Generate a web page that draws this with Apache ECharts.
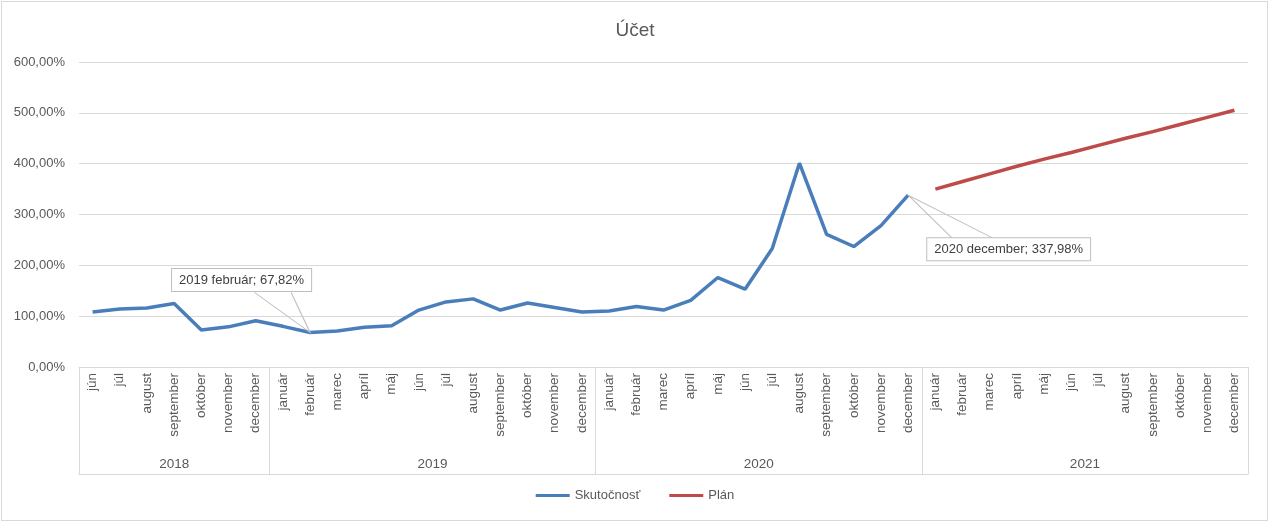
<!DOCTYPE html>
<html>
<head>
<meta charset="utf-8">
<title>Účet</title>
<script src="https://cdn.jsdelivr.net/npm/echarts@6/dist/echarts.min.js"></script>
<style>
    html, body { margin: 0; padding: 0; background: #fff; }
    #chartMain { position: absolute; left: 0; top: 0; width: 1270px; height: 522px; }
    #frame { position: absolute; left: 1px; top: 1px; width: 1265px; height: 518px; border: 1px solid #d9d9d9; pointer-events: none; }
</style>
</head>
<body>
<div id="chartMain"></div>
<div id="frame"></div>
<script>
// roky a mesiace na osi x
var years = ['2018', '2019', '2020', '2021'];
var monthsFirstYear = ['jún', 'júl', 'august', 'september', 'október', 'november', 'december'];
var monthsYear = ['január', 'február', 'marec', 'apríl', 'máj', 'jún', 'júl', 'august', 'september', 'október', 'november', 'december'];

// Skutočnosť: jún 2018 - december 2020 (v %)
var actualValues = [108, 114, 116, 125, 73, 79, 91,
    80, 67.82, 71, 78, 81, 112, 128, 134, 112, 126, 117, 108,
    110, 119, 112, 131, 176, 153, 233, 401, 261, 237, 278, 337.98];

// Plán: január - december 2021 (v %)
var planValues = [350, 365, 380, 395, 409, 422, 436, 450, 463, 477, 491, 505];

// tick labels osi y
var yTicks = [0, 100, 200, 300, 400, 500, 600];

// body s popiskom (index v kategóriách)
var calloutIndexes = [8, 30];

var chartOperation = {

    fmtPct: function (v) {
        return v.toFixed(2).replace('.', ',') + '%';
    },

    draw: function () {
        //kategórie a skupiny rokov
        var categories = [];
        var categoryYear = [];
        var groupCounts = [];
        for (var y = 0; y < years.length; y++) {
            var list = (y === 0) ? monthsFirstYear : monthsYear;
            groupCounts.push(list.length);
            for (var m = 0; m < list.length; m++) {
                categories.push(list[m]);
                categoryYear.push(years[y]);
            }
        }
        var total = categories.length;

        var boundaries = [0];
        var centers = [];
        var acc = 0;
        for (var g = 0; g < groupCounts.length; g++) {
            centers.push(acc + groupCounts[g] / 2);
            acc += groupCounts[g];
            boundaries.push(acc);
        }

        var actualData = [];
        var planData = [];
        for (var i = 0; i < total; i++) {
            actualData.push(i < actualValues.length ? actualValues[i] : null);
            var p = i - (total - planValues.length);
            planData.push(p >= 0 ? planValues[p] : null);
        }

        //popisky - klin a rámček
        var wedges = [
            { path: 'path://M0,0 L55.5,40 L36.6,0', size: [55.5, 40], offset: [-27.75, -20], box: [-68.5, -52.5] },
            { path: 'path://M45,44 L0,0 L87,44', size: [87, 44], offset: [43.5, 22], box: [100.5, 54] }
        ];
        var markData = [];
        for (var c = 0; c < calloutIndexes.length; c++) {
            var idx = calloutIndexes[c];
            var val = actualValues[idx];
            markData.push({
                coord: [idx, val],
                symbol: wedges[c].path,
                symbolSize: wedges[c].size,
                symbolOffset: wedges[c].offset,
                itemStyle: { color: 'rgba(0,0,0,0)', borderColor: '#bfbfbf', borderWidth: 1 },
                label: { show: false }
            });
            markData.push({
                coord: [idx, val],
                symbol: 'circle',
                symbolSize: 1,
                itemStyle: { color: 'rgba(0,0,0,0)' },
                label: {
                    show: true,
                    position: 'inside',
                    offset: wedges[c].box,
                    formatter: categoryYear[idx] + ' ' + categories[idx] + '; ' + chartOperation.fmtPct(val),
                    backgroundColor: '#fff',
                    borderColor: '#bfbfbf',
                    borderWidth: 1,
                    padding: [5, 7, 4, 7],
                    color: '#404040',
                    fontSize: 13,
                    fontFamily: 'Liberation Sans'
                }
            });
        }

        var font = 'Liberation Sans';
        var option = {
            backgroundColor: '#fff',
            animation: false,
            textStyle: { fontFamily: font },
            title: {
                text: 'Účet',
                left: 'center',
                top: 16,
                textStyle: { fontSize: 19, fontWeight: 'normal', color: '#595959', fontFamily: font }
            },
            legend: {
                data: ['Skutočnosť', 'Plán'],
                bottom: 15,
                left: 'center',
                icon: 'rect',
                itemWidth: 34,
                itemHeight: 3,
                itemGap: 29,
                textStyle: { color: '#595959', fontSize: 13, fontFamily: font }
            },
            grid: { left: 79, right: 22, top: 62, bottom: 155 },
            xAxis: [
                {
                    type: 'category',
                    data: categories,
                    boundaryGap: true,
                    axisLine: { lineStyle: { color: '#d9d9d9' } },
                    axisTick: { show: false },
                    axisLabel: {
                        interval: 0,
                        rotate: 90,
                        margin: 6,
                        color: '#595959',
                        fontSize: 13.5,
                        fontFamily: font
                    }
                },
                {
                    type: 'value',
                    min: 0,
                    max: total,
                    position: 'bottom',
                    offset: 107,
                    splitLine: { show: false },
                    axisLine: { show: true, lineStyle: { color: '#d9d9d9' } },
                    axisTick: {
                        show: true,
                        inside: true,
                        length: 107,
                        customValues: boundaries,
                        lineStyle: { color: '#d9d9d9' }
                    },
                    axisLabel: {
                        inside: true,
                        margin: 3,
                        customValues: centers,
                        formatter: function (v) {
                            for (var k = 0; k < centers.length; k++) {
                                if (Math.abs(centers[k] - v) < 0.01) {
                                    return years[k];
                                }
                            }
                            return '';
                        },
                        color: '#595959',
                        fontSize: 13.5,
                        fontFamily: font
                    }
                }
            ],
            yAxis: {
                type: 'value',
                min: yTicks[0],
                max: yTicks[yTicks.length - 1],
                interval: yTicks[1] - yTicks[0],
                axisLine: { show: false },
                axisTick: { show: false },
                splitLine: { lineStyle: { color: '#d9d9d9' } },
                axisLabel: {
                    margin: 14,
                    color: '#595959',
                    fontSize: 13,
                    fontFamily: font,
                    formatter: function (v) { return chartOperation.fmtPct(v); }
                }
            },
            series: [
                {
                    name: 'Skutočnosť',
                    type: 'line',
                    xAxisIndex: 0,
                    data: actualData,
                    showSymbol: false,
                    color: '#4a7ebb',
                    lineStyle: { width: 3.5, color: '#4a7ebb' },
                    markPoint: { silent: true, data: markData, animation: false }
                },
                {
                    name: 'Plán',
                    type: 'line',
                    xAxisIndex: 0,
                    data: planData,
                    showSymbol: false,
                    color: '#be4b48',
                    lineStyle: { width: 3.5, color: '#be4b48' }
                }
            ]
        };

        //获取图形容器
        var mychart = echarts.init(document.getElementById('chartMain'));
        mychart.setOption(option);
    }
};

chartOperation.draw();
</script>
</body>
</html>
